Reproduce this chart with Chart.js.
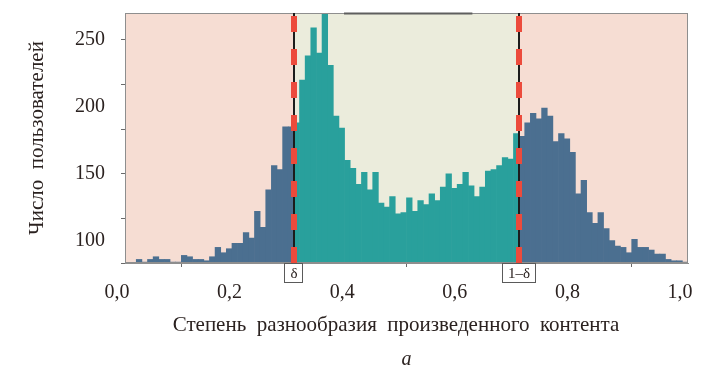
<!DOCTYPE html>
<html>
<head>
<meta charset="utf-8">
<script src="https://cdn.jsdelivr.net/npm/chart.js@4/dist/chart.umd.min.js"></script>
<style>
  html, body { margin: 0; padding: 0; background: #ffffff; }
  canvas { display: block; }
</style>
</head>
<body>
<canvas id="chart" width="705" height="375"></canvas>
<script>
// Histogram of users by diversity of produced content, bins of 0.01 on [0, 1]
const binWidth = 0.01;
const usersPerBin = [
  null, null, 86, 84, 86, 88, 86, 86, 84, 84,
  89, 88, 86, 86, 85, 88, 95, 91, 94, 98,
  98, 106, 102, 122, 110, 138, 156, 153, 185, 185,
  188, 220, 238, 259, 240, 272, 231, 193, 184, 160,
  154, 142, 151, 138, 151, 128, 125, 133, 120, 121,
  132, 122, 130, 127, 135, 130, 140, 150, 139, 142,
  151, 141, 133, 140, 152, 153, 156, 162, 161, 180,
  178, 188, 195, 191, 199, 193, 174, 180, 176, 166,
  135, 145, 121, 113, 121, 109, 100, 96, 95, 91,
  101, 95, 95, 93, 90, 90, 86, 85, 85, 84
];

// Threshold δ splitting the range into outer tails and the central band
const delta = 0.3;
const thresholdLabels = ['δ', '1–δ'];

// Axis ticks
const xTicks = [0, 0.2, 0.4, 0.6, 0.8, 1.0];
const yLabelTicks = [100, 150, 200, 250];
const yMarkTicks = [83.333, 116.667, 150, 183.333, 216.667, 250];
const yMin = 83.333;
const yMax = 270;

// the trailing em space nudges the centred title slightly to the left
const xTitle = 'Степень  разнообразия  произведенного  контента\u2003';
const yTitle = 'Число  пользователей';
const panelLetter = 'a';

const colors = {
  outerBar: '#4b6f90',
  innerBar: '#29a09c',
  outerFill: '#f6ddd3',
  innerFill: '#ebecdc',
  threshold: '#ec4b3c',
  thresholdCore: '#1c1c1c',
  frame: '#8e8e8e',
  text: '#2b2220'
};

const serif = "'Liberation Serif', 'DejaVu Serif', serif";

const points = usersPerBin.map((v, i) => ({ x: (i + 0.5) * binWidth, y: v }));

const inBand = (i) => {
  const start = i * binWidth;
  return start >= delta - 1e-9 && start < 1 - delta - 1e-9;
};

// Background bands behind the bars
const bandShading = {
  id: 'bandShading',
  beforeDraw(chart) {
    const { ctx, chartArea: a, scales: { x } } = chart;
    const cuts = [0, delta, 1 - delta, 1].map(v => x.getPixelForValue(v));
    const fills = [colors.outerFill, colors.innerFill, colors.outerFill];
    ctx.save();
    fills.forEach((f, i) => {
      ctx.fillStyle = f;
      ctx.fillRect(cuts[i], a.top, cuts[i + 1] - cuts[i], a.bottom - a.top);
    });
    ctx.restore();
  }
};

// Frame, threshold lines and their captions
const thresholds = {
  id: 'thresholds',
  afterDatasetsDraw(chart) {
    const { ctx, chartArea: a, scales: { x } } = chart;
    ctx.save();
    ctx.strokeStyle = colors.frame;
    ctx.lineWidth = 1;
    ctx.strokeRect(a.left + 0.5, a.top + 0.5, a.right - a.left - 1, a.bottom - a.top - 1);
    // darker stretch of the top edge over the central band
    ctx.strokeStyle = '#5e5e5e';
    ctx.lineWidth = 2;
    ctx.beginPath();
    ctx.moveTo(x.getPixelForValue(0.389), a.top + 0.5);
    ctx.lineTo(x.getPixelForValue(0.617), a.top + 0.5);
    ctx.stroke();

    [delta, 1 - delta].forEach(v => {
      const px = Math.round(x.getPixelForValue(v));
      ctx.setLineDash([]);
      ctx.strokeStyle = colors.thresholdCore;
      ctx.lineWidth = 2;
      ctx.beginPath();
      ctx.moveTo(px, a.top);
      ctx.lineTo(px, a.bottom);
      ctx.stroke();
      ctx.setLineDash([16, 17]);
      ctx.strokeStyle = colors.threshold;
      ctx.lineWidth = 6;
      ctx.beginPath();
      ctx.moveTo(px, a.bottom);
      ctx.lineTo(px, a.top);
      ctx.stroke();
    });
    ctx.restore();
  },
  afterDraw(chart) {
    const { ctx, chartArea: a, scales: { x } } = chart;
    ctx.save();
    ctx.font = '15px ' + serif;
    ctx.textAlign = 'center';
    ctx.textBaseline = 'middle';
    [delta, 1 - delta].forEach((v, i) => {
      const px = Math.round(x.getPixelForValue(v));
      const label = thresholdLabels[i];
      const w = Math.round(ctx.measureText(label).width) + 12;
      const h = 20;
      const left = px - Math.round(w / 2);
      ctx.fillStyle = '#ffffff';
      ctx.fillRect(left, a.bottom, w, h);
      ctx.strokeStyle = '#5a5a5a';
      ctx.lineWidth = 1;
      ctx.strokeRect(left + 0.5, a.bottom + 0.5, w - 1, h - 1);
      ctx.fillStyle = colors.text;
      ctx.fillText(label, px, a.bottom + h / 2 + 1);
    });
    ctx.restore();
  }
};

new Chart(document.getElementById('chart'), {
  type: 'bar',
  data: {
    datasets: [{
      data: points,
      backgroundColor: (c) => inBand(c.dataIndex) ? colors.innerBar : colors.outerBar,
      borderWidth: 0,
      barPercentage: 1,
      categoryPercentage: 1
    }]
  },
  options: {
    responsive: false,
    animation: false,
    devicePixelRatio: 1,
    layout: { padding: { left: 0, right: 17, top: 13, bottom: 0 } },
    plugins: {
      legend: { display: false },
      tooltip: { enabled: false }
    },
    scales: {
      x: {
        type: 'linear',
        min: 0,
        max: 1,
        offset: false,
        afterBuildTicks: (s) => { s.ticks = xTicks.map(v => ({ value: v })); },
        afterFit: (s) => { s.height = 85; s.paddingLeft = 0; s.paddingRight = 0; },
        ticks: {
          autoSkip: false,
          maxRotation: 0,
          padding: 14,
          labelOffset: -8,
          color: colors.text,
          font: { family: serif, size: 20, lineHeight: 1.2 },
          callback: (v) => Number(v).toFixed(1).replace('.', ',')
        },
        grid: { drawOnChartArea: false, drawTicks: true, tickLength: 4, color: '#6a6a6a' },
        border: { display: true, color: colors.frame, width: 1 },
        title: {
          display: true,
          text: xTitle,
          color: colors.text,
          font: { family: serif, size: 21, lineHeight: 1.2 },
          padding: { top: 0, bottom: 10 }
        }
      },
      // panel caption under the axis title, centred on the plot
      caption: {
        type: 'linear',
        position: 'bottom',
        min: 0,
        max: 1,
        afterFit: (s) => { s.height = 27; s.paddingLeft = 0; s.paddingRight = 0; },
        grid: { display: false, drawTicks: false },
        border: { display: false },
        ticks: { display: false },
        title: {
          display: true,
          text: panelLetter,
          color: colors.text,
          font: { family: serif, size: 20, style: 'italic', lineHeight: 1.2 },
          padding: { top: 0, bottom: 3 }
        }
      },
      y: {
        type: 'linear',
        min: yMin,
        max: yMax,
        afterBuildTicks: (s) => {
          const vals = [...new Set([...yMarkTicks, ...yLabelTicks])].sort((p, q) => p - q);
          s.ticks = vals.map(v => ({ value: v }));
        },
        afterFit: (s) => { s.width = 125; s.paddingTop = 0; s.paddingBottom = 0; },
        ticks: {
          autoSkip: false,
          padding: 16,
          color: colors.text,
          font: { family: serif, size: 20, lineHeight: 1.2 },
          callback: (v) => yLabelTicks.includes(v) ? String(v) : ''
        },
        grid: {
          drawOnChartArea: false,
          drawTicks: true,
          tickLength: 4,
          tickColor: (c) => (c.tick && yMarkTicks.includes(c.tick.value)) ? '#6a6a6a' : 'rgba(0,0,0,0)'
        },
        border: { display: true, color: colors.frame, width: 1 },
        title: {
          display: true,
          text: yTitle,
          color: colors.text,
          font: { family: serif, size: 21, lineHeight: 1.2 },
          padding: { top: 25, bottom: 0 }
        }
      }
    }
  },
  plugins: [bandShading, thresholds]
});
</script>
</body>
</html>
